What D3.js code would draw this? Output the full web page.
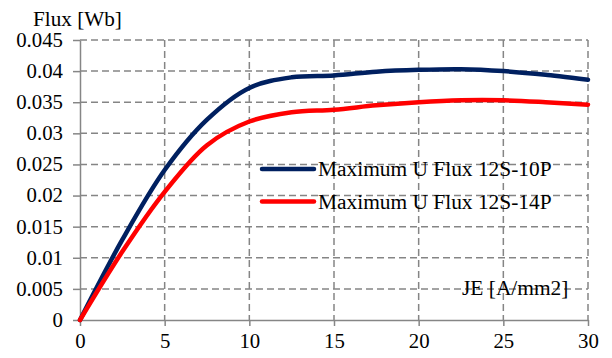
<!DOCTYPE html>
<html>
<head>
<meta charset="utf-8">
<script src="https://cdn.jsdelivr.net/npm/d3@7"></script>
<style>
  body { margin: 0; background: #fff; }
</style>
</head>
<body>
<svg width="612" height="358"></svg>
<script>
// current density JE [A/mm2]
const je = [0, 2.5, 5, 7.5, 10, 12.5, 15, 17.5, 20, 22.5, 25, 27.5, 30];
const flux10P = [0, 0.0129, 0.0241, 0.0322, 0.0373, 0.0390, 0.0393, 0.0399, 0.0402, 0.0403, 0.0400, 0.0394, 0.0386];
const flux14P = [0, 0.0110, 0.0206, 0.0281, 0.0319, 0.0334, 0.0338, 0.0345, 0.0350, 0.0353, 0.0353, 0.0350, 0.0346];
const xTicks = [0, 5, 10, 15, 20, 25, 30];
const yTicks = [0, 0.005, 0.01, 0.015, 0.02, 0.025, 0.03, 0.035, 0.04, 0.045];
const seriesNames = ["Maximum U Flux 12S-10P", "Maximum U Flux 12S-14P"];
const colors = ["#002060", "#ff0000"];

const fontFam = "Liberation Serif, DejaVu Serif, serif";
const svg = d3.select("svg").attr("font-family", fontFam);
const plotL = 80, plotR = 588, plotT = 40, plotB = 320;

const x = d3.scaleLinear().domain([0, 30]).range([plotL, plotR]);
const y = d3.scaleLinear().domain([0, 0.045]).range([plotB, plotT]);

// text in the original is a bit wider than plain Times
function stretch(sel, k) {
    sel.each(function () {
        const w = this.getComputedTextLength();
        d3.select(this).attr("textLength", w * k).attr("lengthAdjust", "spacingAndGlyphs");
    });
}

// dashed grid
const grid = svg.append("g")
    .attr("stroke", "#858585")
    .attr("stroke-width", 1.5)
    .attr("stroke-dasharray", "7,4");
grid.selectAll(".gy")
    .data(yTicks.slice(1))
    .enter().append("line")
    .attr("x1", plotL).attr("x2", plotR)
    .attr("y1", d => y(d)).attr("y2", d => y(d));
grid.selectAll(".gx")
    .data(xTicks.slice(1))
    .enter().append("line")
    .attr("y1", plotT).attr("y2", plotB)
    .attr("x1", d => x(d)).attr("x2", d => x(d));

// axes
const xAxis = d3.axisBottom(x).tickValues(xTicks).tickSize(6).tickSizeOuter(0).tickPadding(8);
const yAxis = d3.axisLeft(y).tickValues(yTicks).tickSize(7).tickSizeOuter(0).tickPadding(10)
    .tickFormat(d => d === 0 ? "0" : String(+d.toFixed(3)));

const gx = svg.append("g").attr("transform", `translate(0,${plotB})`).call(xAxis);
const gy = svg.append("g").attr("transform", `translate(${plotL},0)`).call(yAxis);
[gx, gy].forEach(g => {
    g.attr("font-family", fontFam).attr("font-size", 20);
    g.select(".domain").attr("stroke", "#868686").attr("stroke-width", 1.5);
    g.selectAll(".tick line").attr("stroke", "#868686").attr("stroke-width", 1.5);
    g.selectAll(".tick text").attr("fill", "#000").call(stretch, 1.04);
});

// curves
const line = d3.line()
    .x((d, i) => x(je[i]))
    .y(d => y(d))
    .curve(d3.curveCatmullRom.alpha(0.5));

[flux10P, flux14P].forEach((s, k) => {
    svg.append("path")
        .datum(s)
        .attr("fill", "none")
        .attr("stroke", colors[k])
        .attr("stroke-width", 4.5)
        .attr("stroke-linecap", "round")
        .attr("d", line);
});

// legend
const legend = svg.append("g");
seriesNames.forEach((name, k) => {
    const ly = 169 + k * 32.5;
    legend.append("line")
        .attr("x1", 262).attr("x2", 314)
        .attr("y1", ly).attr("y2", ly)
        .attr("stroke", colors[k])
        .attr("stroke-width", 4.5)
        .attr("stroke-linecap", "round");
    legend.append("text")
        .attr("x", 318).attr("y", ly + 7)
        .attr("font-size", 20)
        .text(name)
        .call(stretch, 1.07);
});

// axis titles
svg.append("text")
    .attr("x", 33).attr("y", 26)
    .attr("font-size", 20)
    .text("Flux [Wb]")
    .call(stretch, 1.06);

svg.append("text")
    .attr("x", 462).attr("y", 295)
    .attr("font-size", 20)
    .text("JE [A/mm2]")
    .call(stretch, 1.07);
</script>
</body>
</html>
